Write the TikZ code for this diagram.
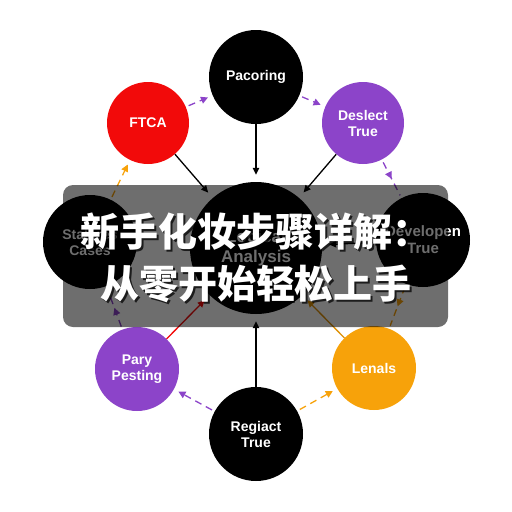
\documentclass[tikz,border=0pt]{standalone}
\usepackage{fontspec}
\setmainfont{Liberation Sans}
\newfontfamily\cjkfont{Noto Sans CJK SC}
\usepackage{xcolor}
\usetikzlibrary{arrows.meta,decorations.markings}

\definecolor{ftcared}{HTML}{F20A0A}
\definecolor{nodepurple}{HTML}{8C44C9}
\definecolor{nodeorange}{HTML}{F7A20A}

\begin{document}
\begin{tikzpicture}
    [
      x = 1pt, y = -1pt,
      circ/.style = {circle, fill=#1, text=white, inner sep=0pt, align=center,
                     font=\bfseries\fontsize{14}{16}\selectfont},
      flow/.style = {-{Triangle[length=7pt,width=6.5pt]}, line width=1.3pt, shorten >=7pt},
      ring/.style = {draw=#1, line width=1.3pt, dash pattern=on 7pt off 5pt,
                     -{Triangle[length=7pt,width=7pt]}, shorten >=5pt, shorten <=3pt},
      ringmid/.style = {draw=#1, line width=1.3pt, dash pattern=on 7pt off 5pt,
                        shorten >=3pt, shorten <=3pt, postaction={decorate},
                        decoration={markings, mark=at position 0.5 with
                          {\arrow[#1]{Triangle[length=7pt,width=7pt]}}}},
      titletext/.style = {text=white, inner sep=0pt,
                          font=\cjkfont\bfseries\fontsize{39}{39}\selectfont},
    ]
    \useasboundingbox (0,0) rectangle (512,512);

    % the ring of steps
    \node[circ=black, minimum size=94pt] (pac) at (256,77) {Pacoring};
    \node[circ=ftcared, minimum size=82pt] (ftca) at (148,123) {FTCA};
    \node[circ=nodepurple, minimum size=82pt] (des) at (363,123) {Deslect\\True};
    \node[circ=black, minimum size=94pt] (sta) at (90,242) {Stalores\\Cases};
    \node[circ=black, minimum size=94pt, font=\bfseries\fontsize{15}{17}\selectfont] (dev) at (423,240) {Developen\\True};
    \node[circ=nodepurple, minimum size=84pt] (par) at (137,369) {Pary\\Pesting};
    \node[circ=nodeorange, minimum size=84pt] (len) at (374,368) {Lenals};
    \node[circ=black, minimum size=94pt] (reg) at (256,434) {Regiact\\True};
    \node[circ=black, minimum size=132pt, font=\bfseries\fontsize{17}{20}\selectfont] (ana) at (256,248) {Logical\\Analysis};

    % into the centre
    \draw[flow] (pac) -- (ana);
    \draw[flow] (ftca) -- (ana);
    \draw[flow] (des) -- (ana);
    \draw[flow] (dev) -- (ana);
    \draw[flow] (reg) -- (ana);
    \draw[flow, ftcared] (par) -- (ana);
    \draw[flow, nodeorange!90!black] (len) -- (ana);

    % round the ring
    \draw[ring=nodepurple] (ftca) -- (pac);
    \draw[ring=nodepurple] (pac) -- (des);
    \draw[ringmid=nodepurple] (des) -- (dev);
    \draw[ringmid=nodeorange] (dev) -- (len);
    \draw[ring=nodeorange] (reg) -- (len);
    \draw[ring=nodepurple] (reg) -- (par);
    \draw[ringmid=nodepurple] (par) -- (sta);
    \draw[ring=nodeorange] (sta) -- (ftca);

    % title band
    \fill[black, opacity=0.57, rounded corners=10pt] (63,185) rectangle (448,327);
    \node[titletext, text=black, opacity=0.75] (t1s) at (258,234) {新手化妆步骤详解：};
    \node[titletext, text=black, opacity=0.75] (t2s) at (258,286) {从零开始轻松上手};
    \node[titletext] (t1) at (256,232) {新手化妆步骤详解：};
    \node[titletext] (t2) at (256,284) {从零开始轻松上手};
\end{tikzpicture}
\end{document}
